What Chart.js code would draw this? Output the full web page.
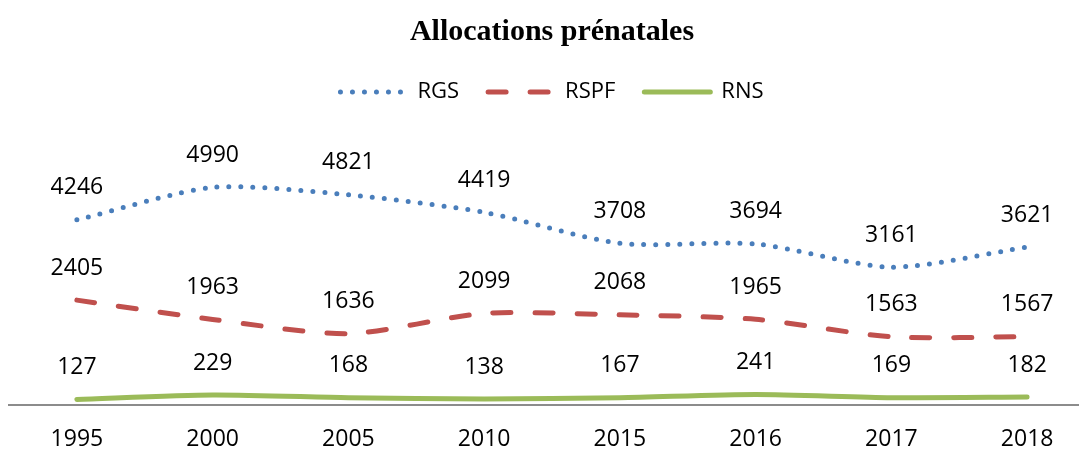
<!DOCTYPE html>
<html><head><meta charset="utf-8">
<script src="https://cdn.jsdelivr.net/npm/chart.js@4/dist/chart.umd.min.js"></script>
<style>html,body{margin:0;padding:0;background:#fff;overflow:hidden}#wrap{width:1079px;height:451px;overflow:hidden}canvas{display:block}</style>
</head><body><div id="wrap"><canvas id="c" width="1095" height="451" style="width:1095px;height:451px"></canvas></div>
<script>
const years = ['1995','2000','2005','2010','2015','2016','2017','2018'];
const rgs  = [4246,4990,4821,4419,3708,3694,3161,3621];
const rspf = [2405,1963,1636,2099,2068,1965,1563,1567];
const rns  = [127,229,168,138,167,241,169,182];

const labelPlugin = {
  id:'vals',
  afterDatasetsDraw(chart){
    const ctx = chart.ctx;
    ctx.save();
    ctx.font = '23px "Open Sans"';
    ctx.fillStyle = '#000';
    ctx.textAlign = 'center';
    ctx.textBaseline = 'middle';
    chart.data.datasets.forEach((ds,di)=>{
      chart.getDatasetMeta(di).data.forEach((p,i)=>{
        ctx.fillText(String(ds.data[i]), p.x, p.y-32);
      });
    });
    ctx.restore();
  }
};
new Chart(document.getElementById('c'), {
  type:'line',
  data:{labels:years, datasets:[
    {label:'RGS', data:rgs, borderColor:'#4A7EBB', backgroundColor:'#4A7EBB', borderWidth:5, borderDash:[0,12], borderCapStyle:'round', pointRadius:0, pointStyle:'line', tension:0.25},
    {label:'RSPF', data:rspf, borderColor:'#C0504D', backgroundColor:'#C0504D', borderWidth:5, borderDash:[18,24], borderCapStyle:'round', pointRadius:0, pointStyle:'line', tension:0.25},
    {label:'RNS', data:rns, borderColor:'#9BBB59', backgroundColor:'#9BBB59', borderWidth:5, borderCapStyle:'round', pointRadius:0, pointStyle:'line', tension:0.25}
  ]},
  options:{
    responsive:false, animation:false, events:[],
    layout:{padding:{left:9,right:0,top:8,bottom:0}},
    plugins:{
      title:{display:true, text:'Allocations prénatales', color:'#000', font:{family:'"Liberation Serif"', size:30, weight:'bold'}, padding:{top:6,bottom:2}},
      legend:{labels:{usePointStyle:true, pointStyleWidth:66, boxHeight:22, color:'#000', font:{family:'"Open Sans"', size:22}, padding:29,
        generateLabels(chart){
          const items = Chart.defaults.plugins.legend.labels.generateLabels(chart);
          items.forEach(it=>{
            const ds = chart.data.datasets[it.datasetIndex];
            it.lineDash = ds.borderDash || [];
            it.lineCap = 'round';
            it.lineWidth = 5;
            it.strokeStyle = ds.borderColor;
            it.pointStyle = 'line';
          });
          return items;
        }}},
      tooltip:{enabled:false}
    },
    scales:{
      x:{type:'category', offset:true,
         afterFit:s=>{s.height = 46;},
         ticks:{color:'#000', font:{family:'"Open Sans"', size:23}, padding:21, maxRotation:0, autoSkip:false},
         grid:{display:false, drawTicks:false, offset:true},
         border:{display:true, color:'#8c8c8c', width:2}},
      y:{display:false, min:0, max:6697}
    }
  },
  plugins:[labelPlugin]
});
</script></body></html>
